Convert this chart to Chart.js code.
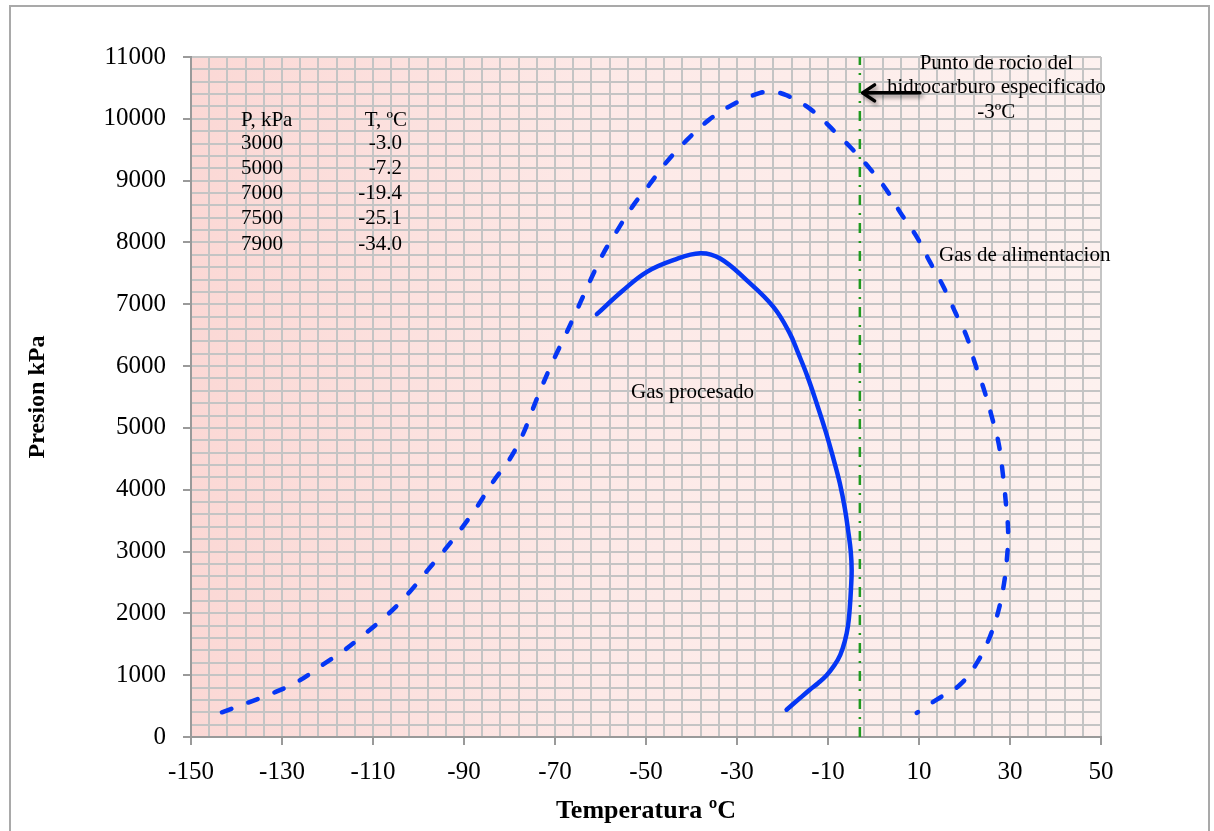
<!DOCTYPE html>
<html>
<head>
<meta charset="utf-8">
<script src="https://cdn.jsdelivr.net/npm/chart.js@4.4.1/dist/chart.umd.min.js"></script>
<style>
html,body{margin:0;padding:0;background:#fff;overflow:hidden;}
#frame{position:absolute;left:9px;top:5px;width:1201px;height:900px;border:2px solid #a9a9a9;box-sizing:border-box;}
#wrap{position:absolute;left:0;top:0;width:1214px;height:831px;}
</style>
</head>
<body>
<div id="frame"></div>
<div id="wrap"><canvas id="c"></canvas></div>
<script>
// Gas de alimentacion (T ºC, P kPa)
let feedT = [-143.2,-137.5,-131.8,-126.5,-121.2,-116.2,-113.6,-106.5,-101.9,-98.2,-94.2,-90.5,-86.9,-83.6,-80,-77.1,-74.8,-72.6,-70,-67.4,-64.3,-61.9,-59.4,-56.1,-52.8,-49.1,-45.5,-41.1,-36.3,-31.2,-24.9,-22,-19.1,-14,-8.8,-4.8,-0.8,2.9,5.8,9.5,12.4,15.4,18.1,20.5,22.3,24.3,26,27.5,28.5,29.1,29.6,29.3,28.7,27.5,25.6,22.7,19,13.9,9.5];
let feedP = [400,555,716,900,1160,1410,1560,2000,2350,2680,3030,3380,3750,4130,4490,4890,5320,5720,6150,6550,7050,7440,7820,8220,8600,8950,9300,9650,9975,10220,10420,10435,10380,10165,9815,9520,9195,8845,8495,8090,7685,7280,6850,6475,6045,5615,5180,4750,4210,3780,3300,2865,2490,2055,1625,1195,845,605,390];

// Gas procesado
let procT = [-60.8,-55.2,-49.8,-44,-38.1,-33.7,-27.9,-22,-18.4,-16.5,-14.5,-12.5,-10.5,-8.8,-7.4,-6.3,-5.5,-5,-4.8,-4.95,-5.2,-5.6,-6.3,-7.3,-8.6,-10.3,-12.2,-14,-16.6,-19.1];
let procP = [6840,7215,7524,7713,7826,7741,7390,6958,6529,6200,5830,5400,4940,4500,4105,3700,3300,3000,2700,2400,2100,1800,1550,1330,1160,1000,870,764,600,441];

// punto de rocio especificado
let dewT = -3;
let dewP = [0, 11000];

let tableP = [3000, 5000, 7000, 7500, 7900];
let tableT = ["-3.0", "-7.2", "-19.4", "-25.1", "-34.0"];

let xMin = -150, xMax = 50, xStep = 4, xLabelStep = 20;
let yMin = 0, yMax = 11000, yStep = 200, yLabelStep = 1000;

let serif = "'Liberation Serif', 'Times New Roman', serif";
let blue = "#0536f5";

let pts = (xs, ys) => xs.map((v, i) => ({x: v, y: ys[i]}));

let plotBg = {
    id: "plotBg",
    beforeDraw(chart){
        let {ctx, chartArea: a} = chart;
        let g = ctx.createLinearGradient(a.left, 0, a.right, 0);
        g.addColorStop(0, "#fbd8d5");
        g.addColorStop(0.45, "#fde9e7");
        g.addColorStop(1, "#fdf1ef");
        ctx.save();
        ctx.fillStyle = g;
        ctx.fillRect(a.left, a.top, a.right - a.left, a.bottom - a.top);
        ctx.restore();
    }
};

let notes = {
    id: "notes",
    afterDatasetsDraw(chart){
        let {ctx, scales: {x, y}} = chart;
        ctx.save();
        ctx.fillStyle = "#000";
        ctx.font = "21px " + serif;
        ctx.textBaseline = "middle";

        // tabla P / T
        let tx = x.getPixelForValue(-139), ty = y.getPixelForValue(9975);
        ctx.textAlign = "left";
        ctx.fillText("P, kPa", tx, ty);
        ctx.textAlign = "right";
        ctx.fillText("T, ºC", tx + 166, ty);
        tableP.forEach((p, i) => {
            let yy = ty + 23 + i * 25.2;
            ctx.textAlign = "left";
            ctx.fillText(String(p), tx, yy);
            ctx.textAlign = "right";
            ctx.fillText(tableT[i], tx + 161, yy);
        });

        ctx.textAlign = "left";
        ctx.fillText("Gas procesado", x.getPixelForValue(-53.3), y.getPixelForValue(5570));
        ctx.fillText("Gas de alimentacion", x.getPixelForValue(14.4), y.getPixelForValue(7790));

        // flecha hacia la linea de -3ºC
        let ay = y.getPixelForValue(10420);
        let a0 = x.getPixelForValue(10.2), a1 = x.getPixelForValue(dewT + 0.6);
        ctx.save();
        ctx.shadowColor = "rgba(0,0,0,0.45)";
        ctx.shadowBlur = 4;
        ctx.shadowOffsetX = 2;
        ctx.shadowOffsetY = 3;
        ctx.strokeStyle = "#000";
        ctx.lineWidth = 3.5;
        ctx.lineCap = "round";
        ctx.lineJoin = "round";
        ctx.beginPath();
        ctx.moveTo(a0, ay);
        ctx.lineTo(a1, ay);
        ctx.moveTo(a1 + 12, ay - 8);
        ctx.lineTo(a1, ay);
        ctx.lineTo(a1 + 12, ay + 8);
        ctx.stroke();
        ctx.restore();

        ctx.textAlign = "center";
        let cx = x.getPixelForValue(27), cy = y.getPixelForValue(10900);
        ["Punto de rocio del", "hidrocarburo especificado", "-3ºC"].forEach((s, i) => {
            ctx.fillText(s, cx, cy + i * 24.5);
        });
        ctx.restore();
    }
};

let ctx = document.getElementById("c").getContext("2d");
let chart = new Chart(ctx, {
    type: "scatter",
    data: {
        datasets: [
            {label: "Gas de alimentacion", data: pts(feedT, feedP), showLine: true, borderColor: blue,
             borderWidth: 4.5, borderDash: [10, 18], borderCapStyle: "round", tension: 0.4, pointRadius: 0},
            {label: "Gas procesado", data: pts(procT, procP), showLine: true, borderColor: blue,
             borderWidth: 4.5, borderCapStyle: "round", tension: 0.4, pointRadius: 0},
            {label: "Punto de rocio", data: dewP.map(p => ({x: dewT, y: p})), showLine: true, borderColor: "#1f9a1f",
             borderWidth: 2.5, borderDash: [10, 8, 2, 8], tension: 0, pointRadius: 0}
        ]
    },
    options: {
        responsive: true,
        maintainAspectRatio: false,
        animation: false,
        layout: {padding: {top: 57, right: 113, left: 0, bottom: 0}},
        plugins: {legend: {display: false}, tooltip: {enabled: false}},
        scales: {
            x: {
                type: "linear", min: xMin, max: xMax,
                afterFit: s => { s.height = 94; },
                ticks: {
                    stepSize: xStep, autoSkip: false, maxRotation: 0, padding: 12, color: "#000",
                    font: {family: serif, size: 25},
                    callback: v => (v - xMin) % xLabelStep === 0 ? v : ""
                },
                grid: {
                    color: "#c4c4c4", lineWidth: 2, tickLength: 8,
                    tickColor: c => c.tick && (c.tick.value - xMin) % xLabelStep === 0 ? "#9a9a9a" : "rgba(0,0,0,0)",
                    tickWidth: 2
                },
                border: {color: "#9a9a9a", width: 2},
                title: {display: true, text: "Temperatura ºC", color: "#000",
                        font: {family: serif, size: 26, weight: "bold"}, padding: {top: 0, bottom: 4}}
            },
            y: {
                type: "linear", min: yMin, max: yMax,
                afterFit: s => { s.width = 191; },
                ticks: {
                    stepSize: yStep, autoSkip: false, padding: 17, color: "#000",
                    font: {family: serif, size: 25},
                    callback: v => v % yLabelStep === 0 ? v : ""
                },
                grid: {
                    color: "#c4c4c4", lineWidth: 2, tickLength: 8,
                    tickColor: c => c.tick && c.tick.value % yLabelStep === 0 ? "#9a9a9a" : "rgba(0,0,0,0)",
                    tickWidth: 2
                },
                border: {color: "#9a9a9a", width: 2},
                title: {display: true, text: "Presion kPa", color: "#000",
                        font: {family: serif, size: 24, weight: "bold"}, padding: {top: 23, bottom: 0}}
            }
        }
    },
    plugins: [plotBg, notes]
});
</script>
</body>
</html>
